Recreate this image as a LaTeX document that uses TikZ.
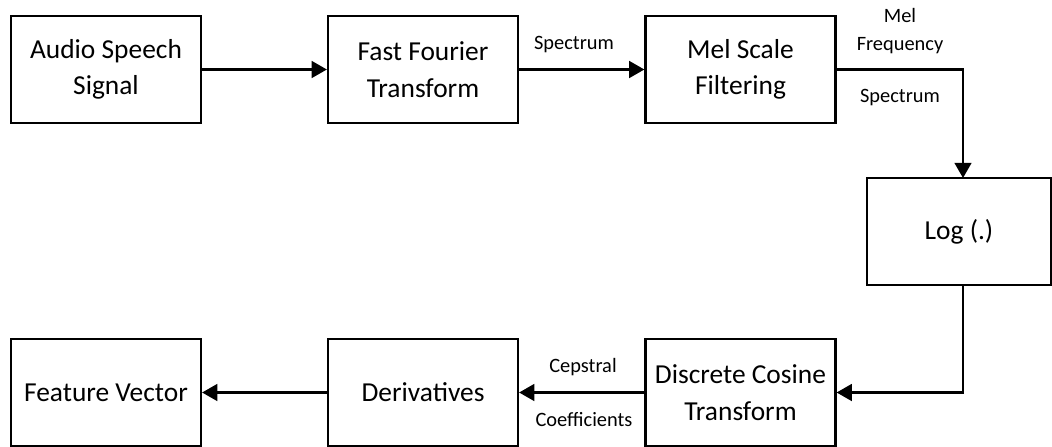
\documentclass[tikz,border=0pt]{standalone}
\usepackage{fontspec}
\setmainfont{Carlito}
\usetikzlibrary{arrows.meta}

\tikzset{
    block/.style={draw, line width=1.6pt, minimum width=4.75cm, minimum height=2.675cm,
        align=center, font=\fontsize{19.5}{26}\selectfont},
    lbl/.style={align=center, font=\fontsize{14.5}{20}\selectfont},
    flow/.style={line width=1.6pt, -{Triangle[length=0.38cm,width=0.42cm]}}
}

\begin{document}
\begin{tikzpicture}[x=0.025cm, y=-0.025cm]
            \useasboundingbox (0,0) rectangle (1052,447);
            % top row
            \node[block] (audio) at (106,69.5) {Audio Speech\\Signal};
            \node[block] (fft) at (423,69.5) {Fast Fourier\\Transform};
            \node[block] (mel) at (740.5,69.5) {Mel Scale\\Filtering};
            % right column
            \node[block, minimum width=4.6cm] (log) at (959,231.5) {Log (.)};
            % bottom row
            \node[block] (dct) at (740.5,392.5) {Discrete Cosine\\Transform};
            \node[block] (deriv) at (423,392.5) {Derivatives};
            \node[block] (feat) at (106,392.5) {Feature Vector};
            \coordinate (login) at (963,178);
            \coordinate (logout) at (963,285);
            \draw[flow] (audio) -- (fft);
            \draw[flow] (fft) -- (mel);
            \draw[flow] (mel.east) -| (login);
            \draw[flow] (logout) |- (dct.east);
            \draw[flow] (dct) -- (deriv);
            \draw[flow] (deriv) -- (feat);
            % connector labels
            \node[lbl] (spec) at (574,45) {Spectrum};
            \node[lbl] (melfreq) at (900,31) {Mel\\Frequency};
            \node[lbl] (melspec) at (900,98) {Spectrum};
            \node[lbl] (cep) at (583,367) {Cepstral};
            \node[lbl] (coef) at (584,420) {Coefficients};
        \end{tikzpicture}
\end{document}
